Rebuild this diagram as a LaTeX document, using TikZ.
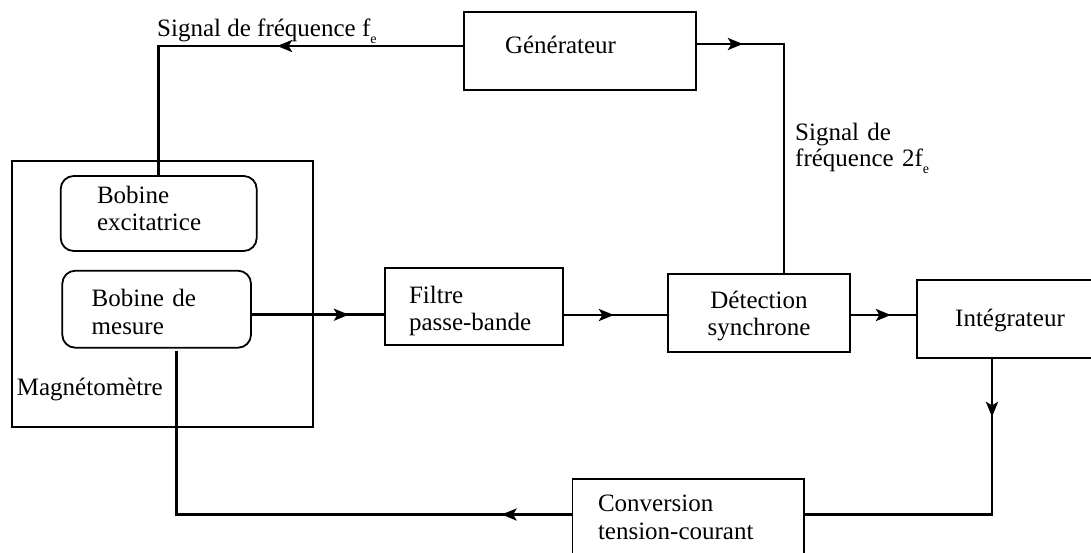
\documentclass[tikz,border=0pt]{standalone}
\usepackage{fontspec}
\setmainfont{Liberation Serif}
\usetikzlibrary{arrows.meta,decorations.markings}
\newcommand\fsz{\fontsize{25}{27.5}\selectfont}
\newcommand\sube{\raisebox{-7pt}{\fontsize{14}{14}\selectfont e}}
\begin{document}
\begin{tikzpicture}[x=1pt,y=-1pt,
  box/.style={draw, line width=1.8pt, inner ysep=0pt, font=\fsz, text height=20pt},
  rbox/.style={box, rounded corners=13pt},
  lbl/.style={inner sep=0pt, font=\fsz},
  wire/.style={line width=2.7pt},
  arrowat/.style={postaction={decorate}, decoration={markings,
      mark=at position #1 with {\arrow{Stealth[length=15pt,width=12pt,inset=3.5pt]}}}},
]
\useasboundingbox (0,0) rectangle (1091,552);

% Magnetometer enclosure
\node[draw, line width=1.8pt, minimum width=301.3pt, minimum height=266.6pt, inner sep=0pt] (mag) at (162.35,294) {};
\node[lbl, anchor=base west] (magl) at (16.7,395) {Magnétomètre};

% Blocks
\node[box, minimum width=232pt, minimum height=78pt, inner xsep=41pt, text width=150pt, align=left, text depth=15.4pt] (gen) at (580,51) {Générateur};
\node[rbox, minimum width=196pt, minimum height=75pt, inner xsep=36.3pt, text width=123.4pt, align=left, text depth=40.4pt] (bexc) at (158.7,213.5) {Bobine\\excitatrice};
\node[rbox, minimum width=188.7pt, minimum height=77pt, inner xsep=29.4pt, text width=129.9pt, align=left, text depth=25pt] (bmes) at (156.65,309.2) {Bobine de\\mesure};
\node[box, minimum width=178pt, minimum height=77pt, inner xsep=24pt, text width=130pt, align=left, text depth=27pt] (filt) at (474,306.5) {Filtre\\passe-bande};
\node[box, minimum width=182pt, minimum height=78pt, inner xsep=10pt, text width=162pt, align=center, text depth=30pt] (det) at (759,313) {Détection\\synchrone};
\node[box, minimum width=186pt, minimum height=78pt, inner xsep=10pt, text width=166pt, align=center, text depth=4.6pt] (int) at (1010,319) {Intégrateur};
\node[box, minimum width=231.5pt, minimum height=78pt, inner xsep=25.5pt, text width=180.5pt, align=left, text depth=32.6pt] (conv) at (688.25,518) {Conversion\\tension-courant};

% Labels
\node[lbl, anchor=base west] (sig1) at (157,36) {Signal de fréquence f\sube};
\node[lbl, anchor=base west, text width=200pt, align=left, font=\fontsize{25}{26.7}\selectfont] (sig2) at (795,140) {Signal de\\fréquence 2f\sube};

% Connectors
\draw[wire, arrowat=186pt] ([yshift=5pt]gen.west) -| (bexc.north);
\draw[wire, arrowat=46pt] ([yshift=7pt]gen.east) -| ([xshift=25pt]det.north);
\draw[wire, arrowat=97pt] ([yshift=-5.5pt]bmes.east) coordinate (m1) -- (m1 -| filt.west);
\draw[wire, arrowat=50pt] ([yshift=-8.5pt]filt.east) coordinate (m2) -- (m2 -| det.west);
\draw[wire, arrowat=40pt] (m2 -| det.east) -- (m2 -| int.west);
\draw[wire, arrowat=58pt] ([xshift=-18pt]int.south) |- ([yshift=3.5pt]conv.east);
\draw[wire, arrowat=70pt, shorten >=2.5pt] ([yshift=3.5pt]conv.west) -| ([xshift=19.5pt]bmes.south);
\end{tikzpicture}
\end{document}
